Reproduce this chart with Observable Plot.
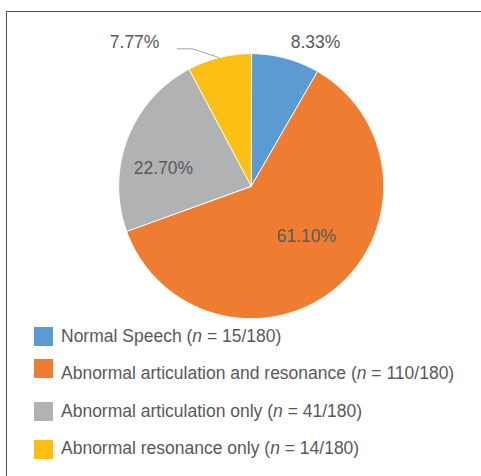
<!DOCTYPE html>
<html><head><meta charset="utf-8">
<script src="https://cdn.jsdelivr.net/npm/d3@7"></script>
<script src="https://cdn.jsdelivr.net/npm/@observablehq/plot@0.6"></script>
<style>
html,body{margin:0;padding:0;background:#fff;overflow:hidden;width:481px;height:476px;}
#frame{position:absolute;left:6px;top:11px;width:600px;height:600px;border:1.5px solid #4d4d4d;box-sizing:border-box;}
#chart{position:absolute;left:0;top:0;}
#legend{position:absolute;left:34px;top:325px;font-family:"Liberation Sans",Arial,sans-serif;font-size:17.5px;color:#595959;}
.row{display:flex;align-items:flex-start;white-space:nowrap;}
.sw{width:19px;height:19px;flex:none;margin-right:8px;margin-top:2px;}
.tx{line-height:20px;}
.r0{height:32px}.r0 .tx{margin-top:1px}
.r1{height:43px}.r1 .tx{margin-top:6px}
.r2{height:38px}.r2 .tx{margin-top:1px}
.r3{height:30px}.r3 .tx{margin-top:0px}
</style></head>
<body>
<div id="frame"></div>
<div id="chart"></div>
<div id="legend"></div>
<script>
const categories = ["Normal Speech", "Abnormal articulation and resonance", "Abnormal articulation only", "Abnormal resonance only"];
const counts = [15, 110, 41, 14];
const total = 180;
const percentLabels = ["8.33%", "61.10%", "22.70%", "7.77%"];
const colors = ["#5B9BD4", "#EE7D31", "#B1B2B4", "#FCBF14"];
// label anchor points in the pie's unit coordinates (radius = 1)
const labelX = [0.485, 0.417, -0.662, -0.880];
const labelY = [1.085, -0.380, 0.134, 1.085];

const pie = d3.pie().sort(null).value(d => d)(counts);
const slicePoints = [];
pie.forEach((p, i) => {
  const steps = Math.max(4, Math.ceil((p.endAngle - p.startAngle) / 0.01));
  slicePoints.push({cat: categories[i], x: 0, y: 0});
  for (let k = 0; k <= steps; k++) {
    const a = p.startAngle + (p.endAngle - p.startAngle) * k / steps;
    slicePoints.push({cat: categories[i], x: Math.sin(a), y: Math.cos(a)});
  }
});
const labels = categories.map((c, i) => ({cat: c, text: percentLabels[i], x: labelX[i], y: labelY[i]}));

// leader line for the small yellow slice
const yp = pie[3];
const midA = (yp.startAngle + yp.endAngle) / 2;
const leader = [
  {x: -0.557, y: 1.037},
  {x: -0.444, y: 1.037},
  {x: Math.sin(midA), y: Math.cos(midA)}
];

const cx = 250.7, cy = 185.7, R = 132.5;
const chart = Plot.plot({
  width: 481,
  height: 325,
  margin: 0,
  style: {background: "transparent", fontFamily: "'Liberation Sans', Arial, sans-serif"},
  x: {domain: [-1, 1], range: [cx - R, cx + R], axis: null},
  y: {domain: [-1, 1], range: [cy + R, cy - R], axis: null},
  color: {domain: categories, range: colors},
  marks: [
    Plot.line(slicePoints, {x: "x", y: "y", z: "cat", fill: "cat", stroke: "white", strokeWidth: 1, curve: "linear-closed"}),
    Plot.line(leader, {x: "x", y: "y", stroke: "#A6A6A6", strokeWidth: 1}),
    Plot.text(labels, {x: "x", y: "y", text: "text", fill: "#595959", fontSize: 17.5})
  ]
});
document.getElementById("chart").appendChild(chart);

const legend = document.getElementById("legend");
categories.forEach((c, i) => {
  const row = document.createElement("div");
  row.className = "row r" + i;
  row.innerHTML = `<div class="sw" style="background:${colors[i]}"></div><div class="tx">${c} (<i>n</i> = ${counts[i]}/${total})</div>`;
  legend.appendChild(row);
});
</script>
</body></html>
